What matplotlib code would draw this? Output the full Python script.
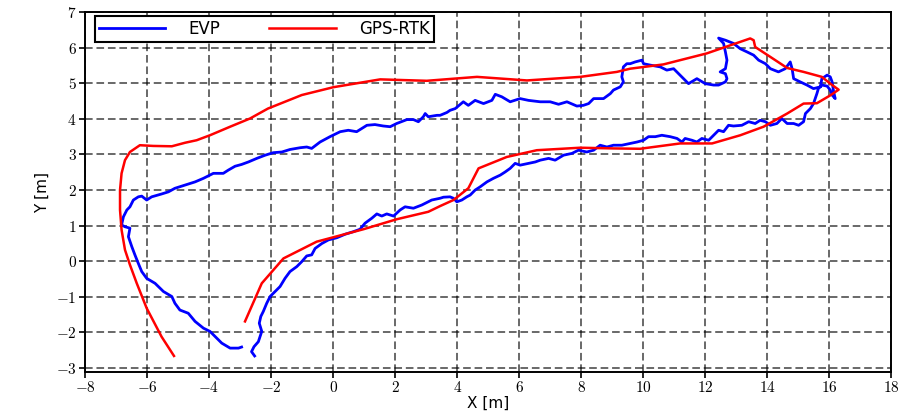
import matplotlib
matplotlib.use('Agg')
import matplotlib.pyplot as plt
from matplotlib.ticker import FuncFormatter, MultipleLocator

# EVP trajectory (noisy)
evp_x = [-2.53, -2.63, -2.55, -2.41, -2.30, -2.38, -2.33, -2.25, -2.14, -2.03,
         -1.87, -1.71, -1.55, -1.39, -1.17, -1.01, -0.85, -0.69, -0.58, -0.36,
         -0.15, 0.12, 0.39, 0.65, 0.87, 1.03, 1.25, 1.41, 1.57, 1.73,
         1.95, 2.16, 2.32, 2.59, 2.86, 3.18, 3.45, 3.56, 3.77, 3.88,
         3.99, 4.15, 4.31, 4.42, 4.58, 4.74, 4.96, 5.17, 5.39, 5.55,
         5.71, 5.87, 6.03, 6.30, 6.52, 6.68, 6.95, 7.16, 7.43, 7.70,
         7.91, 8.18, 8.40, 8.61, 8.83, 9.04, 9.31, 9.58, 9.80, 10.01,
         10.17, 10.39, 10.60, 10.87, 11.09, 11.25, 11.35, 11.57, 11.73, 11.89,
         12.11, 12.27, 12.43, 12.59, 12.75, 12.91, 13.18, 13.40, 13.61, 13.77,
         13.94, 14.10, 14.31, 14.47, 14.64, 14.85, 15.01, 15.17, 15.23, 15.39,
         15.49, 15.60, 15.65, 15.77, 15.93, 16.03, 16.10, 16.19, 16.14, 16.09,
         16.03, 15.93, 15.76, 15.71, 15.49, 15.28, 15.06, 14.85, 14.80, 14.74,
         14.58, 14.36, 14.10, 13.94, 13.72, 13.56, 13.35, 13.13, 12.91, 12.65,
         12.43, 12.59, 12.65, 12.70, 12.65, 12.48, 12.65, 12.70, 12.65, 12.43,
         12.27, 12.00, 11.73, 11.46, 11.30, 10.98, 10.76, 10.55, 10.23, 10.01,
         9.96, 9.74, 9.58, 9.47, 9.36, 9.31, 9.36, 9.26, 9.04, 8.94,
         8.72, 8.40, 8.24, 8.07, 7.86, 7.54, 7.27, 7.00, 6.68, 6.30,
         6.03, 5.71, 5.44, 5.23, 5.12, 4.85, 4.58, 4.36, 4.20, 3.94,
         3.77, 3.67, 3.45, 3.35, 3.07, 2.97, 2.91, 2.75, 2.59, 2.38,
         2.05, 1.84, 1.62, 1.35, 1.09, 0.76, 0.49, 0.23, -0.10, -0.42,
         -0.69, -0.85, -1.06, -1.39, -1.65, -1.93, -2.19, -2.46, -2.73, -2.95,
         -3.16, -3.38, -3.54, -3.86, -4.18, -4.45, -4.77, -5.10, -5.31, -5.53,
         -5.85, -6.01, -6.17, -6.28, -6.44, -6.55, -6.65, -6.76, -6.82, -6.71,
         -6.55, -6.60, -6.49, -6.39, -6.28, -6.17, -6.01, -5.74, -5.47, -5.20,
         -5.10, -4.94, -4.67, -4.45, -4.18, -3.97, -3.59, -3.32, -3.05, -2.95]
evp_y = [-2.66, -2.54, -2.40, -2.26, -1.97, -1.74, -1.55, -1.41, -1.18, -0.99,
         -0.85, -0.71, -0.48, -0.29, -0.15, -0.01, 0.15, 0.18, 0.36, 0.50,
         0.60, 0.66, 0.76, 0.83, 0.90, 1.07, 1.21, 1.33, 1.27, 1.33,
         1.27, 1.44, 1.53, 1.49, 1.58, 1.72, 1.77, 1.80, 1.81, 1.77,
         1.67, 1.72, 1.81, 1.86, 2.00, 2.09, 2.23, 2.33, 2.42, 2.51,
         2.61, 2.75, 2.70, 2.75, 2.79, 2.84, 2.89, 2.84, 2.98, 3.03,
         3.12, 3.07, 3.12, 3.26, 3.21, 3.26, 3.26, 3.31, 3.35, 3.40,
         3.50, 3.50, 3.54, 3.50, 3.45, 3.35, 3.45, 3.40, 3.35, 3.45,
         3.40, 3.54, 3.68, 3.64, 3.82, 3.80, 3.82, 3.92, 3.87, 3.96,
         3.92, 3.82, 3.87, 4.01, 3.87, 3.87, 3.82, 3.92, 4.15, 4.29,
         4.43, 4.71, 4.86, 4.95, 4.92, 4.81, 4.66, 4.57, 4.76, 5.04,
         5.18, 5.23, 5.13, 4.90, 4.85, 4.95, 5.04, 5.13, 5.41, 5.60,
         5.41, 5.32, 5.41, 5.55, 5.65, 5.79, 5.88, 5.97, 6.12, 6.21,
         6.27, 6.12, 5.88, 5.65, 5.41, 5.32, 5.27, 5.13, 5.04, 4.95,
         4.95, 4.99, 5.13, 4.99, 5.13, 5.41, 5.37, 5.46, 5.51, 5.55,
         5.65, 5.60, 5.55, 5.55, 5.46, 5.18, 5.04, 4.90, 4.81, 4.71,
         4.57, 4.57, 4.43, 4.38, 4.36, 4.48, 4.41, 4.48, 4.48, 4.52,
         4.57, 4.48, 4.62, 4.69, 4.52, 4.43, 4.52, 4.38, 4.48, 4.29,
         4.24, 4.18, 4.10, 4.10, 4.06, 4.15, 4.06, 3.92, 3.98, 3.98,
         3.87, 3.78, 3.80, 3.84, 3.82, 3.64, 3.68, 3.64, 3.50, 3.35,
         3.17, 3.21, 3.19, 3.14, 3.07, 3.05, 2.98, 2.89, 2.79, 2.72,
         2.67, 2.56, 2.47, 2.47, 2.33, 2.23, 2.14, 2.05, 1.95, 1.89,
         1.81, 1.72, 1.83, 1.81, 1.72, 1.53, 1.44, 1.25, 1.02, 0.97,
         0.93, 0.69, 0.41, 0.18, -0.06, -0.29, -0.48, -0.62, -0.85, -0.99,
         -1.18, -1.37, -1.46, -1.69, -1.88, -1.97, -2.30, -2.44, -2.44, -2.41]

# GPS-RTK reference trajectory
gps_x = [-2.84, -2.30, -1.60, -0.53, 0.98, 2.05, 3.07, 3.45, 3.88, 4.36,
         4.69, 5.60, 6.57, 7.97, 9.04, 9.90, 11.19, 12.22, 13.13, 13.88,
         14.64, 15.17, 15.60, 16.03, 16.30, 16.03, 15.76, 15.17, 14.64, 14.10,
         13.61, 13.56, 13.45, 12.05, 10.65, 9.58, 9.15, 7.97, 6.25, 4.64,
         3.02, 1.52, 0.01, -1.01, -2.10, -2.68, -3.32, -3.97, -4.40, -4.77,
         -5.20, -5.80, -6.23, -6.55, -6.71, -6.82, -6.87, -6.87, -6.82, -6.71,
         -6.55, -6.33, -6.01, -5.53, -5.13]
gps_y = [-1.69, -0.62, 0.08, 0.55, 0.90, 1.18, 1.39, 1.55, 1.72, 2.05,
         2.61, 2.93, 3.12, 3.19, 3.17, 3.16, 3.31, 3.31, 3.54, 3.78,
         4.15, 4.43, 4.44, 4.66, 4.82, 4.99, 5.18, 5.32, 5.43, 5.74,
         6.02, 6.21, 6.26, 5.84, 5.53, 5.41, 5.32, 5.18, 5.08, 5.18,
         5.07, 5.11, 4.89, 4.67, 4.29, 4.01, 3.78, 3.54, 3.40, 3.33,
         3.23, 3.24, 3.26, 3.07, 2.84, 2.47, 2.00, 1.44, 0.88, 0.32,
         -0.10, -0.62, -1.32, -2.12, -2.66]

plt.rcParams['mathtext.fontset'] = 'cm'

fig = plt.figure(figsize=(9.04, 4.17), dpi=100)
ax = fig.add_axes([0.094, 0.108, 0.892, 0.863])

ax.plot(evp_x, evp_y, color='#0000ff', lw=2.0, label='EVP')
ax.plot(gps_x, gps_y, color='#ff0000', lw=1.8, label='GPS-RTK')

ax.set_xlim(-8, 18)
ax.set_ylim(-3.11, 7)
ax.xaxis.set_major_locator(MultipleLocator(2))
ax.yaxis.set_major_locator(MultipleLocator(1))
fmt = FuncFormatter(lambda v, p: r'$%g$' % v)
ax.xaxis.set_major_formatter(fmt)
ax.yaxis.set_major_formatter(fmt)
ax.tick_params(direction='out', length=4, width=1.2, labelsize=11, pad=2)

ax.grid(True, color='k', alpha=0.75, linestyle=(0, (5, 2.5)), linewidth=1.1)
for s in ax.spines.values():
    s.set_linewidth(1.4)

ax.set_xlabel('X [m]', fontsize=11, labelpad=0)
ax.set_ylabel('Y [m]', fontsize=11, labelpad=4)

leg = ax.legend(loc='upper left', bbox_to_anchor=(0.012, 0.99), ncol=2,
                fontsize=12, handlelength=4.0, handletextpad=1.4,
                columnspacing=2.9, fancybox=False, framealpha=1,
                borderaxespad=0, borderpad=0.25)
leg.get_frame().set_edgecolor('k')
leg.get_frame().set_linewidth(1.5)

fig.savefig('out.png', dpi=100)
